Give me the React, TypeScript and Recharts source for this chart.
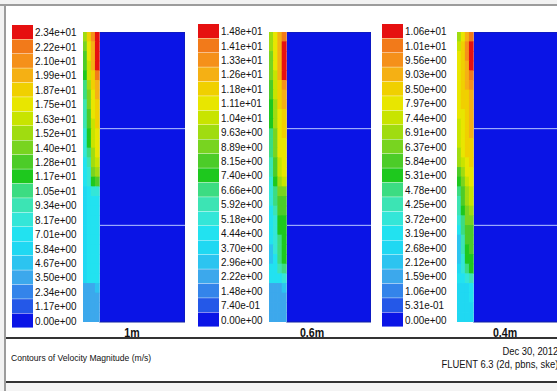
import React from 'react';
import {
  BarChart, Bar, Cell, XAxis, YAxis, ComposedChart, Scatter, ReferenceArea, ReferenceLine,
} from 'recharts';

const FONT = '"Liberation Sans", Arial, sans-serif';

// colour bar labels, top (max) down to 0
const labels1m = ['2.34e+01', '2.22e+01', '2.10e+01', '1.99e+01', '1.87e+01', '1.75e+01', '1.63e+01',
  '1.52e+01', '1.40e+01', '1.28e+01', '1.17e+01', '1.05e+01', '9.34e+00', '8.17e+00', '7.01e+00',
  '5.84e+00', '4.67e+00', '3.50e+00', '2.34e+00', '1.17e+00', '0.00e+00'];
const labels06m = ['1.48e+01', '1.41e+01', '1.33e+01', '1.26e+01', '1.18e+01', '1.11e+01', '1.04e+01',
  '9.63e+00', '8.89e+00', '8.15e+00', '7.40e+00', '6.66e+00', '5.92e+00', '5.18e+00', '4.44e+00',
  '3.70e+00', '2.96e+00', '2.22e+00', '1.48e+00', '7.40e-01', '0.00e+00'];
const labels04m = ['1.06e+01', '1.01e+01', '9.56e+00', '9.03e+00', '8.50e+00', '7.97e+00', '7.44e+00',
  '6.91e+00', '6.37e+00', '5.84e+00', '5.31e+00', '4.78e+00', '4.25e+00', '3.72e+00', '3.19e+00',
  '2.68e+00', '2.12e+00', '1.59e+00', '1.06e+00', '5.31e-01', '0.00e+00'];

// contour level (0..20) in the jet strip next to the wall: 30 rows top->bottom, 4 columns left->right
const field1m = [
  [13, 16, 18, 20], [12, 15, 17, 20], [11, 15, 17, 20], [11, 14, 17, 20], [10, 14, 16, 19],
  [9, 13, 16, 17], [9, 12, 15, 17], [8, 12, 15, 16], [8, 11, 15, 16], [8, 11, 14, 16],
  [7, 10, 14, 15], [7, 10, 14, 15], [7, 9, 13, 15], [6, 8, 13, 14], [6, 7, 12, 13],
  [6, 7, 10, 11], [5, 6, 7, 7], [5, 6, 6, 6], [5, 6, 6, 6], [5, 6, 6, 6],
  [5, 6, 6, 6], [5, 6, 6, 6], [5, 6, 6, 6], [5, 6, 6, 6], [5, 6, 6, 6],
  [5, 6, 6, 6], [3, 3, 3, 4], [3, 3, 3, 3], [3, 3, 3, 3], [3, 3, 3, 3],
];
const field06m = [
  [13, 15, 17, 19], [13, 15, 17, 20], [12, 15, 17, 20], [12, 15, 17, 20], [12, 14, 17, 20],
  [11, 14, 16, 18], [11, 14, 16, 17], [10, 13, 16, 17], [10, 13, 15, 16], [10, 13, 15, 16],
  [9, 12, 15, 16], [9, 12, 15, 15], [9, 12, 15, 15], [8, 11, 14, 15], [8, 11, 14, 15],
  [7, 10, 13, 14], [7, 9, 12, 12], [7, 9, 11, 11], [6, 8, 11, 11], [6, 7, 10, 10],
  [6, 7, 10, 10], [6, 7, 9, 10], [4, 7, 9, 10], [4, 6, 9, 10], [6, 6, 8, 9],
  [6, 6, 6, 7], [3, 3, 3, 4], [3, 3, 3, 3], [3, 3, 3, 3], [3, 3, 3, 3],
];
const field04m = [
  [13, 15, 17, 19], [14, 16, 18, 20], [15, 16, 18, 20], [15, 16, 17, 20], [15, 16, 17, 19],
  [15, 16, 17, 18], [15, 16, 16, 17], [15, 16, 16, 17], [15, 15, 16, 17], [14, 15, 16, 17],
  [14, 15, 16, 17], [14, 15, 16, 16], [13, 15, 16, 16], [13, 14, 15, 16], [11, 13, 15, 15],
  [10, 12, 14, 15], [9, 11, 13, 14], [8, 11, 13, 14], [8, 10, 12, 13], [7, 9, 12, 12],
  [6, 9, 11, 11], [4, 8, 11, 11], [4, 8, 10, 11], [4, 7, 10, 10], [5, 7, 9, 10],
  [6, 6, 7, 8], [5, 5, 5, 6], [5, 5, 5, 6], [5, 5, 5, 5], [5, 5, 5, 5],
];

const panelNames = ['1m', '0.6m', '0.4m'];

// FLUENT rainbow as it looks in the screenshot, level 0 (blue) .. 20 (red)
const PALETTE = [
  '#0a14e6', '#2458e8', '#3484ea', '#3ca8ec', '#2cc4f0', '#20d8f2', '#22e2f0', '#34e6d8',
  '#3ce4b4', '#3cdc82', '#1ec81e', '#4ccc28', '#78d420', '#a0dc10', '#c8e400', '#e8e600',
  '#f0d000', '#f5b014', '#f5901a', '#f27a1a', '#e61010',
];
const levelColor = (i: number) => PALETTE[i];

function BarTick(props: any) {
  const { x, y, payload } = props;
  return (
    <text x={0} y={0} transform={`translate(${x},${y}) scale(0.9,1)`} dy="0.36em" fontSize={11}
      fill="#111" fontFamily={FONT} textAnchor="start">
      {payload.value}
    </text>
  );
}

function ColorBar({ labels, left, top }: { labels: string[]; left: number; top: number }) {
  const data = labels.map((label, i) => ({ label, v: 1, level: labels.length - 1 - i }));
  return (
    <div style={{ position: 'absolute', left, top }}>
      <BarChart width={76} height={303} data={data} layout="vertical" barCategoryGap={0}
        margin={{ top: 0, right: 0, bottom: 0, left: 0 }}>
        <XAxis type="number" hide domain={[0, 1]} />
        <YAxis type="category" dataKey="label" orientation="right" width={55} interval={0}
          tickLine={false} axisLine={false} tickSize={0} tickMargin={2} tick={<BarTick />} />
        <Bar dataKey="v" isAnimationActive={false}>
          {data.map((d) => <Cell key={d.label} fill={levelColor(d.level)} />)}
        </Bar>
      </BarChart>
    </div>
  );
}

const W = 102;
const H = 290;

function Contour({ field, stripFrac, name, left, nameDx }:
  { field: number[][]; stripFrac: number; name: string; left: number; nameDx: number }) {
  const rows = field.length;
  const cols = field[0].length;
  const cells = field.flatMap((row, r) => row.map((level, c) => ({
    x: ((c + 0.5) / cols) * stripFrac,
    y: 1 - (r + 0.5) / rows,
    level,
  })));
  const cw = (W * stripFrac) / cols;
  const ch = H / rows;
  const nameLabel = (p: any) => {
    const vb = p.viewBox;
    return (
      <text x={0} y={0} transform={`translate(${vb.x + vb.width / 2 + nameDx},${vb.y + 15}) scale(0.85,1)`}
        textAnchor="middle" fontSize={12.5} fontWeight={700} fill="#111" fontFamily={FONT}>
        {name}
      </text>
    );
  };
  return (
    <div style={{ position: 'absolute', left, top: 32 }}>
      <ComposedChart width={W} height={H + 22} margin={{ top: 0, right: 0, bottom: 0, left: 0 }}>
        <XAxis type="number" dataKey="x" domain={[0, 1]} allowDataOverflow height={22}
          tick={false} tickLine={false} axisLine={false} label={{ content: nameLabel }} />
        <YAxis type="number" dataKey="y" domain={[0, 1]} allowDataOverflow hide />
        <ReferenceArea x1={stripFrac} x2={1} y1={0} y2={1} fill={levelColor(0)} fillOpacity={1}
          stroke="#1020a0" strokeWidth={1} />
        <Scatter data={cells} isAnimationActive={false}
          shape={(p: any) => (
            <rect x={p.cx - cw / 2 - 0.3} y={p.cy - ch / 2 - 0.3} width={cw + 0.6} height={ch + 0.6}
              fill={levelColor(p.payload.level)} />
          )} />
        <ReferenceLine segment={[{ x: stripFrac, y: 0 }, { x: stripFrac, y: 1 }]} stroke="#dfe6ff" strokeWidth={1} />
        <ReferenceLine segment={[{ x: stripFrac, y: 2 / 3 }, { x: 1, y: 2 / 3 }]} stroke="#b8c8ff" strokeWidth={1} />
        <ReferenceLine segment={[{ x: stripFrac, y: 1 / 3 }, { x: 1, y: 1 / 3 }]} stroke="#b8c8ff" strokeWidth={1} />
      </ComposedChart>
    </div>
  );
}

export default function App() {
  return (
    <div style={{ position: 'absolute', left: 0, top: 0, width: 557, height: 391, overflow: 'hidden',
      background: '#fff', fontFamily: FONT }}>
      <div style={{ position: 'absolute', left: 0, top: 0, width: 557, height: 4, background: '#f2f2f2' }} />
      <div style={{ position: 'absolute', left: 0, top: 0, width: 4, height: 391, background: '#f2f2f2' }} />
      <div style={{ position: 'absolute', left: 0, top: 4, width: 557, height: 2, background: '#9c9c9c' }} />
      <div style={{ position: 'absolute', left: 4, top: 4, width: 2, height: 387, background: '#9c9c9c' }} />

      <ColorBar labels={labels1m} left={12} top={25} />
      <Contour field={field1m} stripFrac={0.16} name={panelNames[0]} left={83} nameDx={-2} />
      <ColorBar labels={labels06m} left={198} top={24} />
      <Contour field={field06m} stripFrac={0.17} name={panelNames[1]} left={269} nameDx={-8} />
      <ColorBar labels={labels04m} left={382} top={24} />
      <Contour field={field04m} stripFrac={0.16} name={panelNames[2]} left={457} nameDx={-3} />

      <div style={{ position: 'absolute', left: 6, top: 337, width: 551, height: 2, background: '#333' }} />
      <div style={{ position: 'absolute', left: 11, top: 351, fontSize: 9.5, lineHeight: '13px', color: '#111',
        whiteSpace: 'nowrap', transform: 'scaleX(0.9)', transformOrigin: 'left center' }}>
        Contours of Velocity Magnitude (m/s)
      </div>
      <div style={{ position: 'absolute', right: -1, top: 345, fontSize: 10, lineHeight: '13px', color: '#111',
        textAlign: 'right', whiteSpace: 'nowrap', transform: 'scaleX(0.94)', transformOrigin: 'right center' }}>
        Dec 30, 2012<br />FLUENT 6.3 (2d, pbns, ske)
      </div>
      <div style={{ position: 'absolute', left: 6, top: 381, width: 551, height: 2, background: '#333' }} />
      <div style={{ position: 'absolute', left: 6, top: 383, width: 551, height: 8, background: '#f4f4f4' }} />
    </div>
  );
}
